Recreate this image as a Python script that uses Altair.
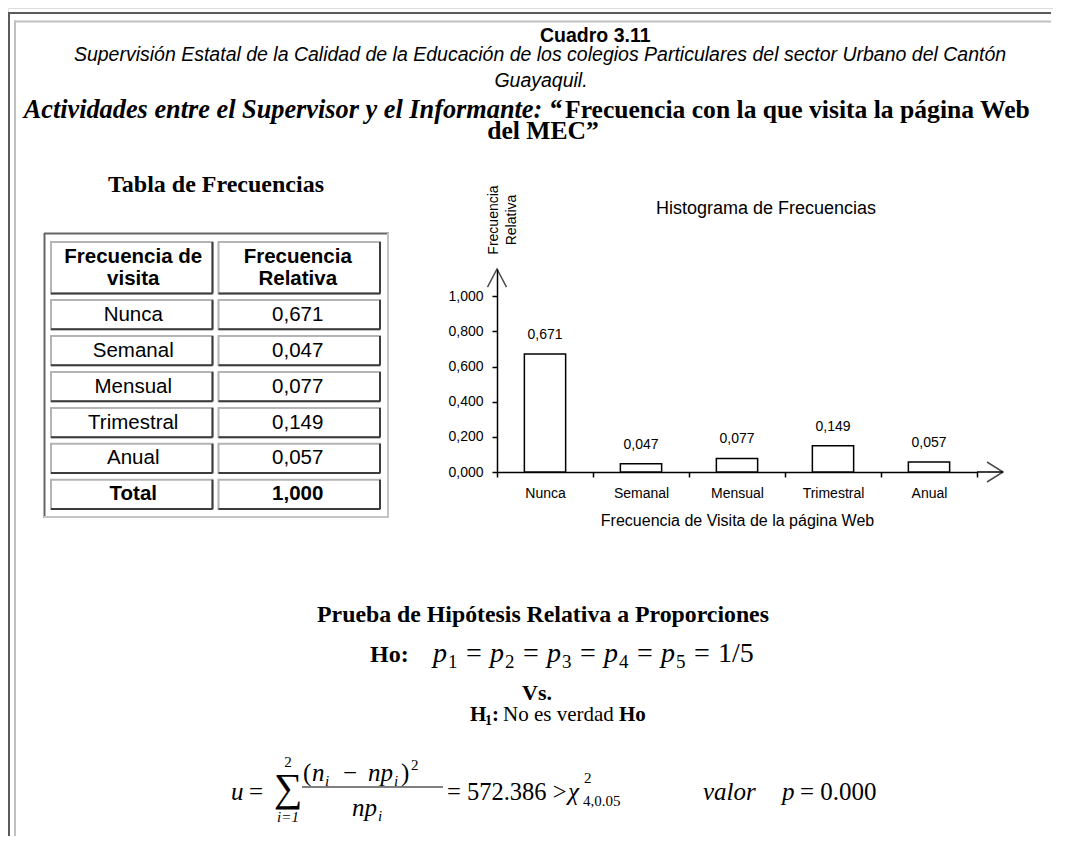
import altair as alt
import pandas as pd

# ---------------- data ----------------
categories = ["Nunca", "Semanal", "Mensual", "Trimestral", "Anual"]
rel_freq = [0.671, 0.047, 0.077, 0.149, 0.057]
total_label = "Total"
total_value = 1.000
table_headers = ["Frecuencia de\nvisita", "Frecuencia\nRelativa"]
y_ticks = [0.0, 0.2, 0.4, 0.6, 0.8, 1.0]


def comma(v):
    return f"{v:.3f}".replace(".", ",")


# ---------------- layout helpers ----------------
W, H = 1045, 828
SANS = "Liberation Sans, Arial, sans-serif"
SERIF = "Liberation Serif, Times New Roman, serif"
base = pd.DataFrame({"k": [0]})


def px(x):
    return x - 8


def py(y):
    return y - 8


def label(text, x, y, size, font=SERIF, weight="normal", style="normal",
          align="left", baseline="alphabetic", angle=None, lineHeight=None):
    kw = dict(text=text, fontSize=size, font=font, fontWeight=weight,
              fontStyle=style, align=align, baseline=baseline, color="black")
    if angle is not None:
        kw["angle"] = angle
    if lineHeight is not None:
        kw["lineHeight"] = lineHeight
    return alt.Chart(base).mark_text(**kw).encode(x=alt.value(px(x)), y=alt.value(py(y)))


def hline(x1, x2, y, color, width=2):
    return alt.Chart(base).mark_rule(stroke=color, strokeWidth=width).encode(
        x=alt.value(px(x1)), x2=alt.value(px(x2)), y=alt.value(py(y)))


def vline(x, y1, y2, color, width=2):
    return alt.Chart(base).mark_rule(stroke=color, strokeWidth=width).encode(
        x=alt.value(px(x)), y=alt.value(py(y1)), y2=alt.value(py(y2)))


layers = []

# ---------------- frame ----------------
layers += [
    hline(8, W + 6, 13, "#5a5a5a"),
    vline(9, 12, H + 8, "#5a5a5a"),
    hline(14, W + 6, 21.5, "#c0c0c0"),
    vline(15, 20.5, H + 8, "#c0c0c0"),
]

# ---------------- header texts ----------------
layers += [
    label("Cuadro 3.11", 540, 42, 19.5, font=SANS, weight="bold"),
    label("Supervisión Estatal de la Calidad de la Educación de los colegios Particulares del sector Urbano del Cantón",
          540, 61, 19.5, font=SANS, style="italic", align="center"),
    label("Guayaquil.", 541, 87, 19.5, font=SANS, style="italic", align="center"),
    label("Actividades entre el Supervisor y el Informante: \u201c", 562, 118, 26.3,
          weight="bold", style="italic", align="right"),
    label("Frecuencia con la que visita la página Web", 565, 118, 25.6, weight="bold"),
    label("del MEC\u201d", 543, 139, 25.6, weight="bold", align="center"),
    label("Tabla de Frecuencias", 216, 192, 24, weight="bold", align="center"),
]

# ---------------- table ----------------
PAD, GAP = 0.32, 0.30
LINE_PX = 22
rows = [(table_headers[0], table_headers[1], 2, True)]
rows += [(c, comma(v), 1, False) for c, v in zip(categories, rel_freq)]
rows += [(total_label, comma(total_value), 1, True)]
TY0, TY1 = py(242), py(509)
recs = []
cursor = 0.0
tmp = []
for r, (t1, t2, lines, bold) in enumerate(rows):
    top = cursor
    bot = cursor + lines + PAD
    cursor = bot + GAP
    tmp.append((r, t1, t2, lines, bold, top, bot))
total_units = cursor - GAP
unit_px = (TY1 - TY0) / total_units
for r, t1, t2, lines, bold, top, bot in tmp:
    mid = (top + bot) / 2 - (lines - 1) * LINE_PX / 2 / unit_px
    for col, t in (("c1", t1), ("c2", t2)):
        recs.append({"row": r, "col": col, "txt": t, "top": top, "bot": bot,
                     "mid": mid, "bold": bold})
cells = pd.DataFrame(recs)

T_X0, T_X1, T_PI = px(51), px(380), 0.036
t_bw = (T_X1 - T_X0) / (2 - T_PI) * (1 - T_PI)
tx = alt.Scale(domain=["c1", "c2"], range=[T_X0, T_X1], paddingInner=T_PI, paddingOuter=0)
ty = alt.Scale(domain=[0, total_units], range=[TY0, TY1], nice=False, zero=False)

X_T = alt.X("col:N", scale=tx, axis=None)

layers += [
    # outer table border
    hline(44, 389, 233.5, "#666666"),
    vline(44.5, 233, 518, "#666666"),
    hline(44, 389, 517, "#c4c4c4"),
    vline(388, 233, 518, "#c4c4c4"),
    # cells
    alt.Chart(cells).mark_rect(fill="white", stroke="#b4b4b4", strokeWidth=2).encode(
        x=X_T, y=alt.Y("top:Q", scale=ty, axis=None), y2="bot:Q"),
    alt.Chart(cells).mark_rect(fillOpacity=0, stroke="#3c3c3c", strokeWidth=2).encode(
        x=X_T, y=alt.Y("bot:Q", scale=ty, axis=None), y2="bot:Q"),
    alt.Chart(cells).mark_rule(stroke="#3c3c3c", strokeWidth=2, xOffset=t_bw / 2).encode(
        x=X_T, y=alt.Y("top:Q", scale=ty, axis=None), y2="bot:Q"),
    alt.Chart(cells).transform_filter("!datum.bold").mark_text(
        font=SANS, fontSize=20.5, baseline="middle", lineBreak="\n", lineHeight=LINE_PX,
        color="black").encode(
        x=X_T, y=alt.Y("mid:Q", scale=ty, axis=None), text="txt:N"),
    alt.Chart(cells).transform_filter("datum.bold").mark_text(
        font=SANS, fontSize=20.5, fontWeight="bold", baseline="middle", lineBreak="\n",
        lineHeight=LINE_PX, color="black").encode(
        x=X_T, y=alt.Y("mid:Q", scale=ty, axis=None), text="txt:N"),
]

# ---------------- histogram ----------------
bars_df = pd.DataFrame({"cat": categories, "val": rel_freq,
                        "lab": [comma(v) for v in rel_freq]})
xs = alt.Scale(domain=categories, range=[px(497), px(977)], paddingInner=0, paddingOuter=0)
ys = alt.Scale(domain=[0, 1.155], range=[py(472), py(269)], nice=False, zero=True)
AX = dict(domainColor="black", domainWidth=1.5, tickColor="black", tickWidth=1.5,
          tickSize=5, labelColor="black", labelFont=SANS, labelFontSize=14, grid=False)

bars = alt.Chart(bars_df).mark_bar(fill="white", stroke="black", strokeWidth=1.5,
                                   width=alt.RelativeBandSize(0.43)).encode(
    x=alt.X("cat:N", scale=xs, sort=categories,
            axis=alt.Axis(orient="bottom", offset=py(472) - H, labelAngle=0, labelPadding=9,
                          tickBand="extent", title="Frecuencia de Visita de la página Web",
                          titleFont=SANS, titleFontSize=16, titleFontWeight="normal",
                          titleColor="black", titlePadding=12, **AX)),
    y=alt.Y("val:Q", scale=ys,
            axis=alt.Axis(orient="left", offset=-px(497), values=y_ticks, format=".3f",
                          labelExpr="replace(datum.label, '.', ',')", labelPadding=9,
                          title=None, **AX)),
)
bar_labels = alt.Chart(bars_df).mark_text(font=SANS, fontSize=14, baseline="bottom", dy=-12,
                                           color="black").encode(
    x=alt.X("cat:N", scale=xs, sort=categories, axis=None),
    y=alt.Y("val:Q", scale=ys, axis=None),
    text="lab:N",
)
layers += [
    bars, bar_labels,
    hline(977, 1003, 472, "black", 1.5),
    alt.Chart(base).mark_point(shape="M-1.6,-1L0,0L-1.6,1", size=400, filled=False,
                               stroke="black", strokeWidth=1.5).encode(
        x=alt.value(px(1003)), y=alt.value(py(472))),
    alt.Chart(base).mark_point(shape="M-1,1.9L0,0L1,1.9", size=361, filled=False,
                               stroke="black", strokeWidth=1.5).encode(
        x=alt.value(px(497)), y=alt.value(py(269))),
    label("Histograma de Frecuencias", 766, 214, 18, font=SANS, align="center"),
    label(["Frecuencia", "Relativa"], 494, 220, 14, font=SANS, align="center",
          baseline="middle", angle=270, lineHeight=18),
]

# ---------------- hypothesis test ----------------
layers += [
    label("Prueba de Hipótesis Relativa a Proporciones", 543, 622, 23.8, weight="bold", align="center"),
    label("Ho:", 370, 662, 24, weight="bold"),
]
P0, STEP = 433, 57
for k in range(5):
    xp = P0 + k * STEP
    layers += [
        label("p", xp, 662, 28, style="italic"),
        label(str(k + 1), xp + 15, 668, 19),
        label("=", xp + 41, 662, 28, align="center"),
    ]
layers += [
    label("1/5", P0 + 4 * STEP + 57, 662, 28),
    label("Vs.", 537, 700, 22, weight="bold", align="center"),
    label("H", 470, 721, 21, weight="bold"),
    label("1", 485, 725, 14, weight="bold"),
    label(":", 492, 721, 21, weight="bold"),
    label("No es verdad", 503, 721, 21),
    label("Ho", 619, 721, 21, weight="bold"),
]

# formula line
layers += [
    label("u", 231, 800, 25, style="italic"),
    label("=", 256, 800, 25, align="center"),
    label("\u2211", 288, 801, 40, align="center"),
    label("2", 288, 767, 15, align="center"),
    label("i=1", 288, 822, 15, style="italic", align="center"),
    label("(", 303, 781, 25),
    label("n", 312, 781, 25, style="italic"),
    label("i", 325, 786, 15, style="italic"),
    label("\u2212", 350, 781, 25, align="center"),
    label("np", 368, 781, 25, style="italic"),
    label("i", 394, 786, 15, style="italic"),
    label(")", 401, 781, 25),
    label("2", 411, 770, 15),
    hline(302, 443, 787, "black", 1.2),
    label("np", 352, 816, 25, style="italic"),
    label("i", 378, 821, 15, style="italic"),
    label("= 572.386 >", 447, 800, 24.5),
    label("\u03c7", 568, 800, 25, style="italic"),
    label("2", 584, 783, 15),
    label("4,0.05", 583, 806, 15),
    label("valor", 703, 800, 25, style="italic"),
    label("p", 782, 800, 25, style="italic"),
    label("= 0.000", 800, 800, 25),
]

chart = alt.layer(*layers).resolve_scale(x="independent", y="independent").properties(
    width=W, height=H, autosize=alt.AutoSizeParams(type="none"), padding=0
).configure_view(stroke=None).configure(background="white")

chart.save("out.html", embed_options={"renderer": "svg", "actions": False})
